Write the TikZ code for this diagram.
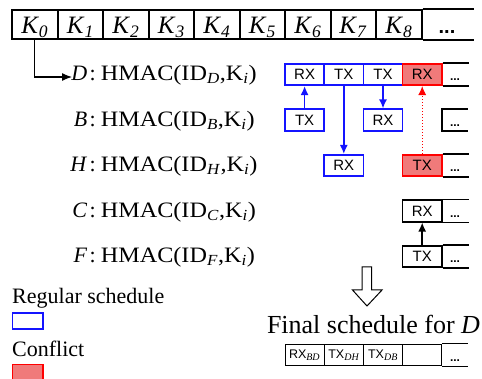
\documentclass[tikz,border=0pt]{standalone}
\usepackage{fontspec}
\setmainfont{Liberation Serif}
\newfontfamily\arialf{Liberation Sans}
\usetikzlibrary{arrows.meta}
\definecolor{confl}{RGB}{240,122,122}
\definecolor{myblue}{RGB}{20,20,255}
\tikzset{
  kcell/.style={draw=black, line width=2pt, minimum width=45.5pt, minimum height=29pt, inner sep=0pt},
  klab/.style={anchor=base, inner sep=0pt, font=\fontsize{25}{25}\selectfont},
  scell/.style={minimum width=39.2pt, minimum height=21.5pt, inner sep=0pt, line width=1.6pt,
    font=\arialf\fontsize{15}{15}\selectfont},
  bcell/.style={scell, draw=myblue},
  rcell/.style={scell, draw=red, fill=confl},
  kblk/.style={scell, draw=black},
  fcell/.style={scell, draw=black, line width=0.8pt, font=\arialf\fontsize{12.5}{12.5}\selectfont},
  dotsl/.style={anchor=base, inner sep=0pt, font=\arialf\bfseries\fontsize{12}{12}\selectfont},
  hlab/.style={anchor=base west, inner sep=0pt, font=\fontsize{22}{22}\selectfont},
  barrow/.style={-{Latex[length=9pt,width=8pt]}, line width=1.5pt},
}
\newcommand{\rowlab}[2]{\makebox[15pt][r]{\textit{#1}}\kern2.5pt:\kern5pt\scalebox{1.1}[1]{HMAC(ID\textsubscript{\textit{#2}},K\textsubscript{\textit{i}})}}
\newcommand{\sbs}[1]{\textsubscript{\rmfamily\itshape\fontsize{10}{10}\selectfont #1}}
\begin{document}
\begin{tikzpicture}[x=1pt,y=-1pt]
\useasboundingbox (0,0) rectangle (482,379);
% top key row
\foreach \i in {0,...,8} {
  \node[kcell] (K\i) at ({34.75+45.5*\i},24.5) {};
  \node[klab] (KL\i) at ({34.75+45.5*\i},33.5) {\textit{K}\textsubscript{\textit{\i}}};
}
\draw[line width=2pt] (K8.north east) -- ++(51,0);
\draw[line width=2pt] (K8.south east) -- ++(51,0);
\node[anchor=base, inner sep=0pt, font=\arialf\bfseries\fontsize{20}{20}\selectfont] (Kdots) at (447,34) {...};
% row labels
\node[hlab] (LD) at (72,80.7) {\rowlab{D}{D}};
\node[hlab] (LB) at (72,126.2) {\rowlab{B}{B}};
\node[hlab] (LH) at (72,171.7) {\rowlab{H}{H}};
\node[hlab] (LC) at (72,217.2) {\rowlab{C}{C}};
\node[hlab] (LF) at (72,262.7) {\rowlab{F}{F}};
\coordinate (Dtip) at (72,77);
\draw[-{Latex[length=10pt,width=8pt]}, line width=1.2pt] (K0.south) |- (Dtip);
% row D
\node[bcell] (D1) at (304.6,74.5) {RX};
\node[bcell] (D2) at (343.8,74.5) {TX};
\node[bcell] (D3) at (383.0,74.5) {TX};
\node[rcell] (D4) at (422.2,74.5) {RX};
\draw[line width=1.6pt] (D4.north east) -- ++(26,0) (D4.south east) -- ++(26,0);
\node[dotsl] (Ddots) at (455,81) {...};
% row B
\node[bcell] (B1) at (304.6,120) {TX};
\node[bcell] (B3) at (383.0,120) {RX};
\coordinate (Bs) at (441.8,120);
\draw[line width=1.6pt] ([xshift=26pt,yshift=-10.75pt]Bs) -- ([yshift=-10.75pt]Bs) -- ([yshift=10.75pt]Bs) -- ([xshift=26pt,yshift=10.75pt]Bs);
\node[dotsl] (Bdots) at (455,126.5) {...};
% row H
\node[bcell] (H2) at (343.8,165.5) {RX};
\node[rcell] (H4) at (422.2,165.5) {TX};
\draw[line width=1.6pt] (H4.north east) -- ++(26,0) (H4.south east) -- ++(26,0);
\node[dotsl] (Hdots) at (455,172) {...};
% row C
\node[kblk] (C4) at (422.2,211) {RX};
\draw[line width=1.6pt] (C4.north east) -- ++(26,0) (C4.south east) -- ++(26,0);
\node[dotsl] (Cdots) at (455,217.5) {...};
% row F
\node[kblk] (F4) at (422.2,256.5) {TX};
\draw[line width=1.6pt] (F4.north east) -- ++(26,0) (F4.south east) -- ++(26,0);
\node[dotsl] (Fdots) at (455,263) {...};
% arrows
\draw[barrow, myblue] (B1.north) -- (D1.south);
\draw[barrow, myblue] (D2.south) -- (H2.north);
\draw[barrow, myblue] (D3.south) -- (B3.north);
\draw[-{Latex[length=9pt,width=8pt]}, red, dotted, line width=1pt] (H4.north) -- (D4.south);
\draw[barrow, black] (F4.north) -- (C4.south);
% block arrow
\draw[line width=1pt, fill=white] (362,267) -- (371.5,267) -- (371.5,290) -- (382,290) -- (367,306) -- (352.5,290) -- (362,290) -- cycle;
\node[anchor=base, inner sep=0pt, font=\fontsize{26}{26}\selectfont] (FS) at (373.5,334) {Final schedule for \textit{D}};
% final row
\node[fcell] (G1) at (304.6,355) {RX\sbs{BD}};
\node[fcell] (G2) at (343.8,355) {TX\sbs{DH}};
\node[fcell] (G3) at (383.0,355) {TX\sbs{DB}};
\node[fcell] (G4) at (422.2,355) {};
\draw[line width=0.8pt] (G4.north east) -- ++(26,0) (G4.south east) -- ++(26,0);
\node[dotsl] (Gdots) at (455,361.5) {...};
% legend
\node[hlab] (RS) at (12,304) {Regular schedule};
\draw[myblue, line width=1.5pt] (12.5,313) rectangle (43,329);
\node[hlab] (CF) at (12,356) {Conflict};
\draw[red, fill=confl, line width=1.5pt] (12.5,364.5) rectangle (43,385);
\end{tikzpicture}
\end{document}
